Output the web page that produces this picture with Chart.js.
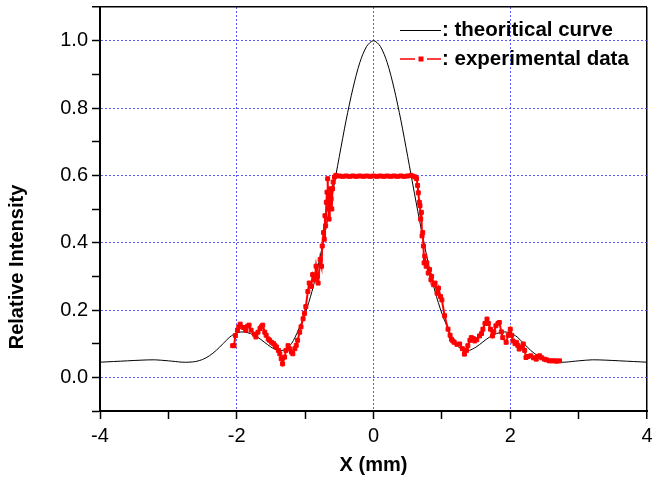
<!DOCTYPE html>
<html>
<head>
<meta charset="utf-8">
<script src="https://cdn.jsdelivr.net/npm/chart.js@4/dist/chart.umd.min.js"></script>
<style>
  html, body { margin: 0; padding: 0; background: #fff; }
  #wrap { width: 653px; height: 482px; }
</style>
</head>
<body>
<div id="wrap"><canvas id="chart" width="653" height="482"></canvas></div>
<script>
// theoretical curve
const theoryX = [
  -4.0, -3.8, -3.6, -3.4, -3.2, -3.0, -2.9, -2.8, -2.7, -2.6, -2.5, -2.4, -2.3, -2.2, -2.1,
  -2.0, -1.9, -1.8, -1.7, -1.6, -1.5, -1.4, -1.3, -1.2, -1.1, -1.0, -0.9, -0.8, -0.7, -0.6,
  -0.5, -0.4, -0.3, -0.2, -0.1, 0.0, 0.1, 0.2, 0.3, 0.4, 0.5, 0.6, 0.7, 0.8, 0.9,
  1.0, 1.1, 1.2, 1.3, 1.4, 1.5, 1.6, 1.7, 1.8, 1.9, 2.0, 2.1, 2.2, 2.3, 2.4,
  2.5, 2.6, 2.7, 2.8, 2.9, 3.0, 3.2, 3.4, 3.6, 3.8, 4.0,
];
const theoryY = [
  0.045, 0.047, 0.049, 0.051, 0.052, 0.049, 0.047, 0.045, 0.045, 0.047, 0.053, 0.064, 0.080, 0.100, 0.120,
  0.132, 0.135, 0.130, 0.120, 0.105, 0.090, 0.080, 0.082, 0.100, 0.140, 0.190, 0.255, 0.340, 0.438, 0.545,
  0.656, 0.764, 0.859, 0.935, 0.983, 1.000, 0.983, 0.935, 0.859, 0.764, 0.656, 0.545, 0.438, 0.340, 0.255,
  0.190, 0.140, 0.100, 0.082, 0.080, 0.090, 0.105, 0.120, 0.130, 0.135, 0.132, 0.120, 0.100, 0.080, 0.064,
  0.053, 0.047, 0.045, 0.045, 0.047, 0.049, 0.052, 0.051, 0.049, 0.047, 0.045,
];

// experimental data (one line of x per line of y)
const expX = [
  -2.06, -2.04, -2.02, -1.99, -1.97, -1.95, -1.90, -1.87, -1.84, -1.82,
  -1.79, -1.74, -1.72, -1.69, -1.66, -1.64, -1.62, -1.59, -1.57, -1.54,
  -1.52, -1.49, -1.46, -1.44, -1.42, -1.39, -1.37, -1.35, -1.33, -1.30,
  -1.28, -1.25, -1.23, -1.20, -1.18, -1.15, -1.13, -1.11, -1.08, -1.06,
  -1.03, -1.01, -0.99, -0.96, -0.94, -0.91, -0.89, -0.86, -0.84, -0.82,
  -0.81, -0.78, -0.76, -0.75, -0.73, -0.72, -0.71, -0.70, -0.69, -0.68,
  -0.67, -0.66, -0.65, -0.64, -0.63, -0.62, -0.61, -0.60, -0.59, -0.57,
  -0.55, -0.50, -0.45, -0.40, -0.35, -0.30, -0.25, -0.20, -0.15, -0.10,
  -0.05, 0.00, 0.05, 0.10, 0.15, 0.20, 0.25, 0.30, 0.35, 0.40,
  0.45, 0.50, 0.55, 0.58, 0.61, 0.63, 0.645, 0.655, 0.67, 0.68,
  0.69, 0.70, 0.71, 0.72, 0.73, 0.74, 0.75, 0.77, 0.78, 0.80,
  0.82, 0.84, 0.85, 0.88, 0.90, 0.93, 0.95, 0.98, 1.00, 1.04,
  1.09, 1.12, 1.14, 1.16, 1.18, 1.22, 1.26, 1.30, 1.33, 1.36,
  1.38, 1.41, 1.43, 1.46, 1.48, 1.51, 1.55, 1.58, 1.60, 1.63,
  1.66, 1.68, 1.71, 1.74, 1.76, 1.79, 1.82, 1.84, 1.87, 1.89,
  1.94, 1.97, 2.00, 2.02, 2.04, 2.07, 2.09, 2.11, 2.13, 2.16,
  2.19, 2.21, 2.23, 2.26, 2.30, 2.34, 2.38, 2.40, 2.43, 2.46,
  2.50, 2.53, 2.57, 2.61, 2.65, 2.68, 2.72,
];
const expY = [
  0.094, 0.094, 0.124, 0.140, 0.150, 0.158, 0.148, 0.140, 0.152, 0.155,
  0.140, 0.128, 0.120, 0.134, 0.145, 0.150, 0.155, 0.134, 0.125, 0.114,
  0.110, 0.104, 0.100, 0.094, 0.090, 0.080, 0.070, 0.055, 0.040, 0.060,
  0.080, 0.094, 0.085, 0.075, 0.070, 0.085, 0.095, 0.110, 0.134, 0.150,
  0.174, 0.190, 0.210, 0.255, 0.280, 0.270, 0.305, 0.290, 0.330, 0.300,
  0.280, 0.350, 0.330, 0.390, 0.430, 0.410, 0.480, 0.450, 0.520, 0.550,
  0.590, 0.500, 0.470, 0.540, 0.560, 0.530, 0.500, 0.560, 0.580, 0.595,
  0.600, 0.598, 0.597, 0.598, 0.597, 0.598, 0.597, 0.598, 0.597, 0.598,
  0.597, 0.598, 0.597, 0.598, 0.597, 0.598, 0.597, 0.598, 0.597, 0.598,
  0.597, 0.598, 0.600, 0.597, 0.595, 0.590, 0.570, 0.548, 0.520, 0.510,
  0.470, 0.490, 0.420, 0.430, 0.390, 0.340, 0.360, 0.330, 0.340, 0.310,
  0.320, 0.290, 0.300, 0.275, 0.280, 0.250, 0.265, 0.240, 0.230, 0.183,
  0.143, 0.125, 0.113, 0.108, 0.104, 0.098, 0.099, 0.085, 0.069, 0.080,
  0.094, 0.110, 0.118, 0.115, 0.108, 0.112, 0.123, 0.130, 0.143, 0.160,
  0.173, 0.160, 0.143, 0.123, 0.135, 0.153, 0.160, 0.163, 0.135, 0.118,
  0.104, 0.125, 0.143, 0.125, 0.108, 0.100, 0.104, 0.095, 0.084, 0.090,
  0.099, 0.080, 0.059, 0.062, 0.064, 0.058, 0.054, 0.062, 0.064, 0.058,
  0.054, 0.052, 0.049, 0.049, 0.049, 0.048, 0.049,
];

// axis settings
const xMin = -4, xMax = 4, xStep = 1;
const yMin = -0.1, yMax = 1.1, yStep = 0.1;
const legendLabels = [": theoritical curve", ": experimental data"];

const FONT = "'Liberation Sans', Arial, Helvetica, sans-serif";
const gridBlue = "rgba(60,60,255,0.85)";
const clear = "rgba(0,0,0,0)";

// Y 軸標題與圖例
const extrasPlugin = {
  id: "extras",
  afterDraw(chart) {
    const c = chart.ctx;
    c.save();
    c.fillStyle = "#000";
    c.font = "bold 20px " + FONT;
    c.textAlign = "center";
    c.textBaseline = "middle";
    c.translate(17, 267);
    c.rotate(-Math.PI / 2);
    c.fillText("Relative Intensity", 0, 0);
    c.restore();

    c.save();
    c.font = "bold 20.5px " + FONT;
    c.textAlign = "left";
    c.textBaseline = "middle";
    c.fillStyle = "#000";
    c.strokeStyle = "#000";
    c.lineWidth = 1;
    c.beginPath();
    c.moveTo(400, 30.5);
    c.lineTo(441, 30.5);
    c.stroke();
    c.fillText(legendLabels[0], 442, 30);

    c.strokeStyle = "#ff0000";
    c.lineWidth = 1.5;
    c.beginPath();
    c.moveTo(400, 59);
    c.lineTo(415, 59);
    c.moveTo(427, 59);
    c.lineTo(441, 59);
    c.stroke();
    c.fillStyle = "#ff0000";
    c.fillRect(418.5, 56.5, 5, 5);
    c.fillStyle = "#000";
    c.fillText(legendLabels[1], 442, 59);
    c.restore();
  },
};

const isMajorX = (v) => Math.round(v) % 2 === 0;
const isMajorY = (v) => Math.round(v * 10) % 2 === 0;
const atEnd = (v, end) => Math.abs(v - end) < 1e-6;

const ctx = document.querySelector("#chart").getContext("2d");

new Chart(ctx, {
  type: "scatter",
  data: {
    datasets: [
      {
        label: "theoritical curve",
        data: theoryX.map((x, i) => ({ x: x, y: theoryY[i] })),
        showLine: true,
        borderColor: "#000",
        borderWidth: 1,
        pointRadius: 0,
        tension: 0.3,
        order: 2,
      },
      {
        label: "experimental data",
        data: expX.map((x, i) => ({ x: x, y: expY[i] })),
        showLine: true,
        borderColor: "#ff0000",
        backgroundColor: "#ff0000",
        borderWidth: 2,
        pointStyle: "rect",
        pointRadius: 2.8,
        pointBorderWidth: 1,
        order: 1,
      },
    ],
  },
  options: {
    responsive: false,
    animation: false,
    layout: { padding: { left: 0, right: 6, top: 7, bottom: 0 } },
    plugins: { legend: { display: false }, tooltip: { enabled: false } },
    scales: {
      x: {
        type: "linear",
        position: "bottom",
        min: xMin,
        max: xMax,
        ticks: {
          stepSize: xStep,
          autoSkip: false,
          maxRotation: 0,
          padding: 5,
          color: "#000",
          font: { family: FONT, size: 20 },
          callback: (v) => (isMajorX(v) ? String(Math.round(v)) : ""),
        },
        grid: {
          color: (c) => {
            const v = c.tick ? c.tick.value : 0;
            if (atEnd(v, xMax)) return "#000";
            return isMajorX(v) && v > xMin ? gridBlue : clear;
          },
          lineWidth: (c) => (c.tick && atEnd(c.tick.value, xMax) ? 1.5 : 1),
          tickColor: "#000",
          tickLength: 8,
          tickWidth: 1.5,
        },
        border: {
          display: true,
          color: "#000",
          width: 2,
          dash: (c) => (c.tick && atEnd(c.tick.value, xMax) ? [] : [2, 2]),
        },
        title: {
          display: true,
          text: "X (mm)",
          color: "#000",
          font: { family: FONT, size: 20, weight: "bold" },
          padding: { top: 0, bottom: 5 },
        },
        afterFit: (s) => {
          s.height = 71;
          s.paddingLeft = 0;
          s.paddingRight = 0;
        },
      },
      y: {
        type: "linear",
        position: "left",
        min: yMin,
        max: yMax,
        ticks: {
          stepSize: yStep,
          autoSkip: false,
          padding: 4,
          color: "#000",
          font: { family: FONT, size: 20 },
          callback: (v) => (isMajorY(v) ? v.toFixed(1) : ""),
        },
        grid: {
          color: (c) => {
            const v = c.tick ? c.tick.value : 0;
            if (atEnd(v, yMax)) return "#000";
            return isMajorY(v) && v > yMin + 0.01 ? gridBlue : clear;
          },
          lineWidth: (c) => (c.tick && atEnd(c.tick.value, yMax) ? 1.5 : 1),
          tickColor: "#000",
          tickLength: 8,
          tickWidth: 1.5,
        },
        border: {
          display: true,
          color: "#000",
          width: 2,
          dash: (c) => (c.tick && atEnd(c.tick.value, yMax) ? [] : [2, 2]),
        },
        afterFit: (s) => {
          s.width = 100;
          s.paddingTop = 0;
          s.paddingBottom = 0;
        },
      },
    },
  },
  plugins: [extrasPlugin],
});
</script>
</body>
</html>
